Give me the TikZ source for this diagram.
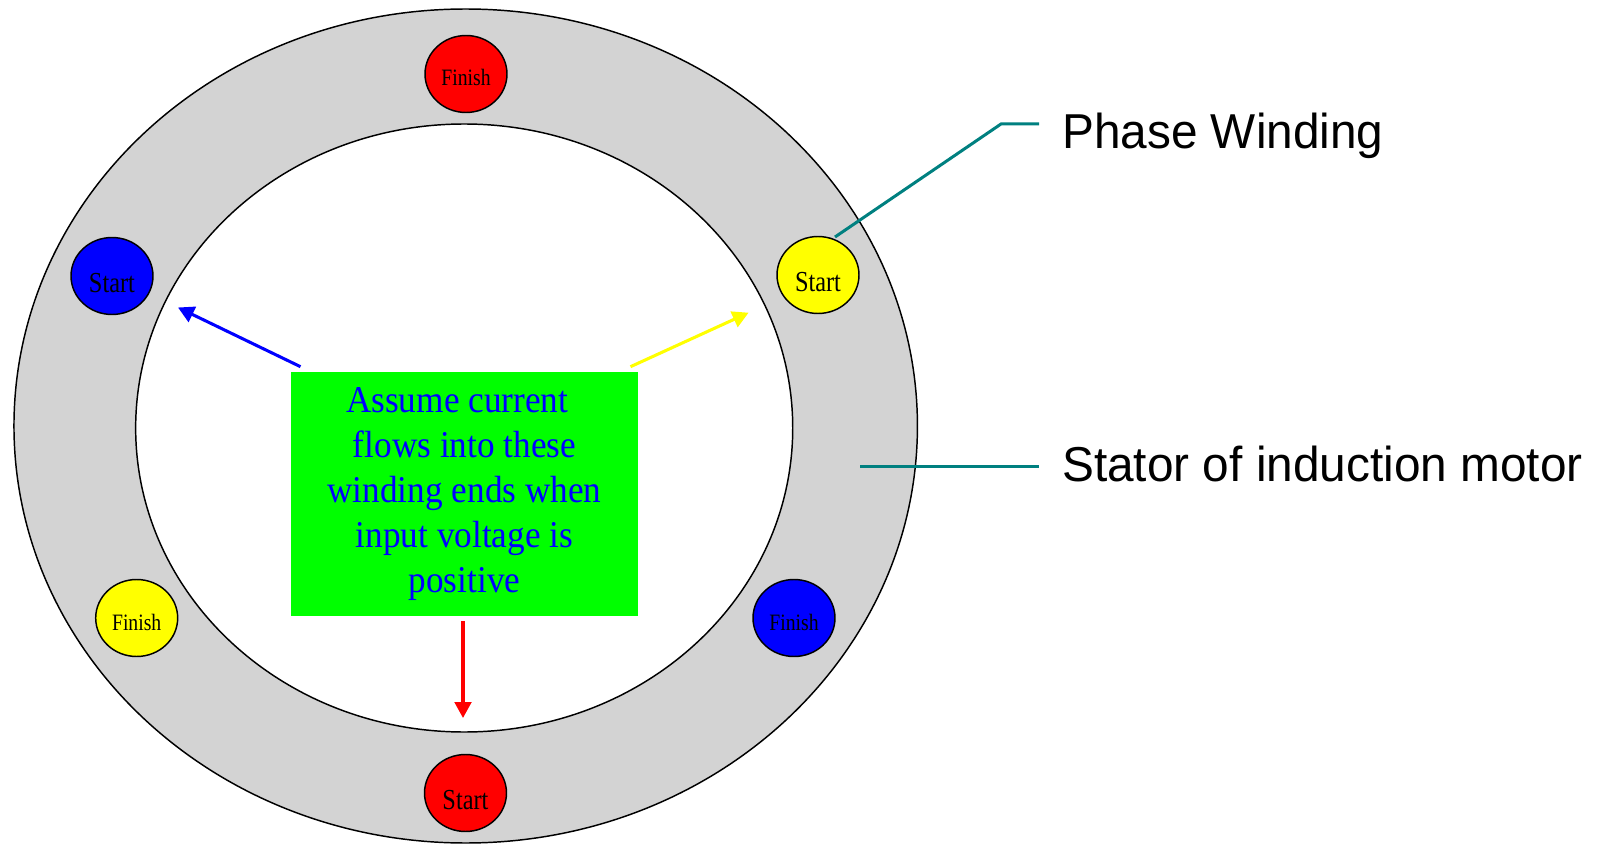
\documentclass[tikz,border=0pt]{standalone}
\usepackage{fontspec}
\setmainfont{Liberation Serif}
\newfontfamily\boxfont[FakeStretch=0.93]{Liberation Serif}
\newfontfamily\slotfont[FakeStretch=0.84]{Liberation Serif}
\newfontfamily\labelfont[FakeStretch=0.975]{Liberation Sans}
\usetikzlibrary{shapes.geometric,arrows.meta}
\definecolor{ringgray}{RGB}{211,211,211}
\definecolor{leadteal}{RGB}{0,128,128}
\definecolor{boxgreen}{RGB}{0,255,0}
\definecolor{pureyellow}{RGB}{255,255,0}
\definecolor{pureblue}{RGB}{0,0,255}
\definecolor{purered}{RGB}{255,0,0}
\newcommand{\trail}{\hspace*{11pt}}
\tikzset{
  slot/.style={ellipse, draw=black, line width=1.1pt, inner sep=0pt,
    minimum width=61.5pt, minimum height=57.75pt, text=black},
  startslot/.style={slot, font=\slotfont\fontsize{21.75pt}{24pt}\selectfont,
    text height=24.75pt, text depth=0pt},
  finishslot/.style={slot, font=\slotfont\fontsize{17.6pt}{20pt}\selectfont,
    text height=18pt, text depth=0pt},
  arr/.style={line width=2.3pt, -{Triangle[length=12pt, width=12.5pt]}},
  leader/.style={leadteal, line width=2.25pt},
  sidelabel/.style={anchor=base west, inner sep=0pt,
    font=\labelfont\fontsize{36.75pt}{40pt}\selectfont},
  notebox/.style={rectangle, fill=boxgreen, inner sep=0pt,
    minimum width=260.25pt, minimum height=183pt, align=center,
    text=pureblue, font=\boxfont\fontsize{28.4pt}{33.75pt}\selectfont}
}
\begin{document}
\begin{tikzpicture}[x=0.75pt, y=-0.75pt]
\useasboundingbox (0,0) rectangle (1597,845);
% stator ring
\path[fill=ringgray, draw=black, line width=1.1pt, even odd rule]
  (465.7,426) ellipse [x radius=338.8pt, y radius=312.75pt]
  (464.2,428) ellipse [x radius=246.4pt, y radius=228pt];
% winding ends
\node[finishslot, fill=purered] (fr) at (466,74) {Finish};
\node[startslot, fill=pureblue] (sb) at (112,276) {Start};
\node[startslot, fill=pureyellow] (sy) at (818,275) {Start};
\node[finishslot, fill=pureyellow] (fy) at (136.7,618) {Finish};
\node[finishslot, fill=pureblue] (fb) at (794,618) {Finish};
\node[startslot, fill=purered] (sr) at (465.5,793) {Start};
% note box
\node[notebox] (note) at (464.5,494) {Assume current\trail\\flows into these\trail\\winding ends when\trail\\input voltage is\trail\\positive};
% arrows
\coordinate (bA) at (300.5,366.7);
\coordinate (bB) at (178,307.5);
\coordinate (yA) at (630.5,366.7);
\coordinate (yB) at (748.6,312.7);
\coordinate (rA) at (463,621);
\coordinate (rB) at (463,718);
\draw[arr, pureblue] (bA) -- (bB);
\draw[arr, pureyellow] (yA) -- (yB);
\draw[arr, purered] (rA) -- (rB);
% labels and leaders
\node[sidelabel] (pw) at (1062,148.3) {Phase Winding};
\node[sidelabel] (st) at (1062,481.7) {Stator of induction motor};
\coordinate (pwA) at (835,237);
\coordinate (pwK) at (1001,124);
\coordinate (pwE) at (1039,124);
\coordinate (stA) at (860,466);
\coordinate (stE) at (1039,466);
\draw[leader] (pwA) -- (pwK) -- (pwE);
\draw[leader] (stA) -- (stE);
\end{tikzpicture}
\end{document}
